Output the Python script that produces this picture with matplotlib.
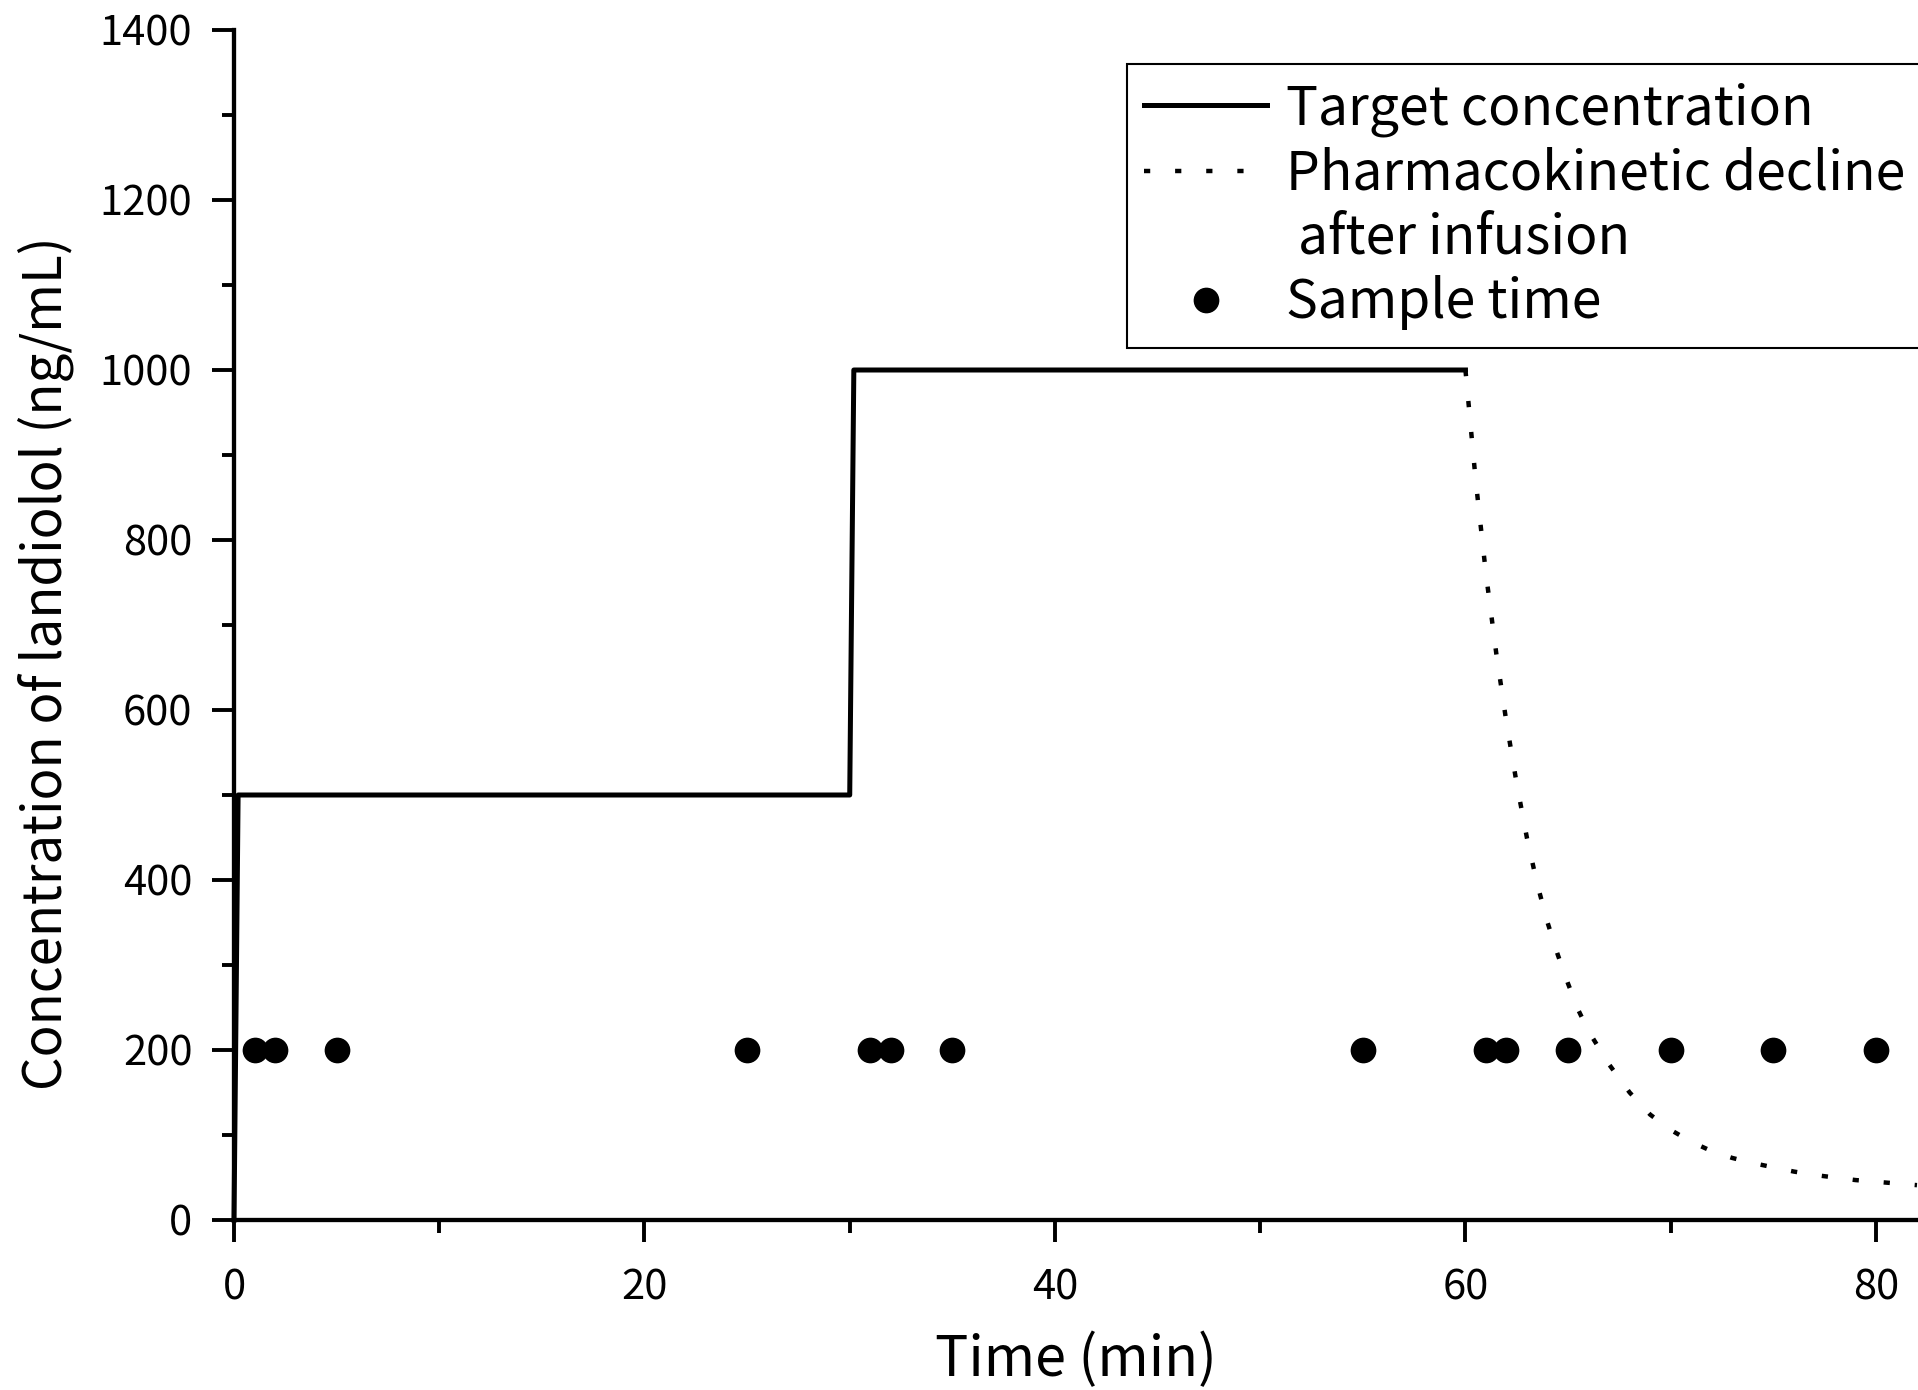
import matplotlib
matplotlib.use("Agg")
import matplotlib.pyplot as plt
from matplotlib.lines import Line2D
from matplotlib.ticker import MultipleLocator

plt.rcParams["font.family"] = ["Noto Sans CJK JP", "DejaVu Sans"]

# target concentration steps (min, ng/mL)
target_time = [0, 0.2, 30, 30.2, 60]
target_conc = [0, 500, 500, 1000, 1000]

# pharmacokinetic decline after the infusion stops
decline_time = [60, 60.5, 61, 61.5, 62, 62.5, 63, 63.5, 64, 64.5, 65, 65.5,
                66, 67, 68, 69, 70, 71, 72, 73, 74, 75, 76, 77, 78, 79, 80,
                81, 82]
decline_conc = [1000, 870, 760, 667, 585, 513, 449, 395, 350, 312, 278, 247,
                222, 183, 150, 124, 106, 92, 81, 73, 67, 62, 57, 53, 50, 47,
                45, 43, 41]

# sampling times
sample_time = [1, 2, 5, 25, 31, 32, 35, 55, 61, 62, 65, 70, 75, 80]
sample_conc = [200] * len(sample_time)

fig = plt.figure(figsize=(19.18, 13.9), dpi=100)
ax = fig.add_axes([234 / 1918, 170 / 1390, 1 - 234 / 1918, 1190 / 1390])

line_target, = ax.plot(target_time, target_conc, color="black", lw=3.6,
                       clip_on=False, zorder=3)
line_decline, = ax.plot(decline_time, decline_conc, color="black", lw=3.2,
                        linestyle=(0, (1.4, 5.6)), zorder=3)
pts_sample, = ax.plot(sample_time, sample_conc, "o", color="black", ms=17.5,
                      zorder=4)

ax.set_xlim(0, 82.05)
ax.set_ylim(0, 1400)

ax.xaxis.set_major_locator(MultipleLocator(20))
ax.xaxis.set_minor_locator(MultipleLocator(10))
ax.yaxis.set_major_locator(MultipleLocator(200))
ax.yaxis.set_minor_locator(MultipleLocator(100))

for side in ["top", "right"]:
    ax.spines[side].set_visible(False)
for side in ["left", "bottom"]:
    ax.spines[side].set_linewidth(3.1)

ax.tick_params(which="major", direction="out", length=16, width=2.8,
               labelsize=30, pad=14)
ax.tick_params(which="minor", direction="out", length=9, width=2.8)
ax.tick_params(axis="x", which="major", pad=18)

ax.set_xlabel("Time (min)", fontsize=40)
ax.set_ylabel("Concentration of landiolol (ng/mL)", fontsize=38)
ax.xaxis.set_label_coords(0.5, -0.094)
ax.yaxis.set_label_coords(-0.095, 0.468)

# second line of the dotted entry gets its own blank row so the dots sit
# next to the first line, as in the original
blank = Line2D([], [], linestyle="none")
leg = ax.legend([line_target, line_decline, blank, pts_sample],
                ["Target concentration", "Pharmacokinetic decline",
                 " after infusion", "Sample time"],
                loc="upper left", bbox_to_anchor=(1127 / 1918, 1 - 64 / 1390),
                bbox_transform=fig.transFigure, fontsize=38.5, frameon=True,
                fancybox=False, framealpha=1, edgecolor="black",
                borderaxespad=0, borderpad=0.32, handlelength=2.3,
                handletextpad=0.35, labelspacing=0.18)
leg.get_frame().set_linewidth(1.5)

fig.savefig("out.png", dpi=100)
